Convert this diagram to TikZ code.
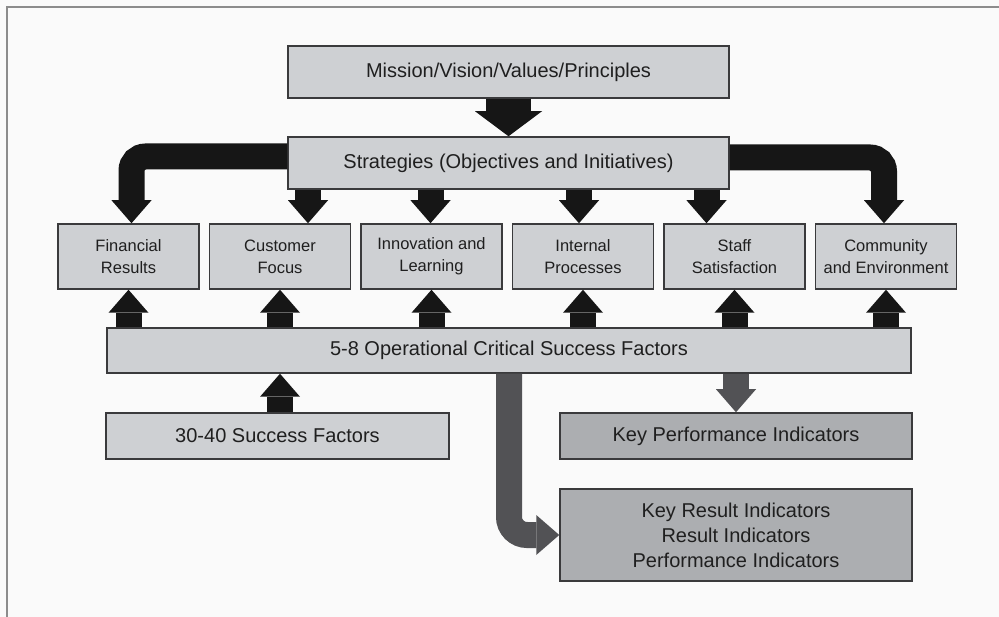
\documentclass[tikz,border=0pt]{standalone}
\usepackage{fontspec}
\setmainfont{Liberation Sans}
\usetikzlibrary{positioning,arrows.meta}
\definecolor{paper}{RGB}{250,250,250}
\definecolor{framegray}{RGB}{140,140,140}
\definecolor{boxgray}{RGB}{206,208,211}
\definecolor{indgray}{RGB}{172,174,177}
\definecolor{edgegray}{RGB}{58,58,60}
\definecolor{arrblack}{RGB}{22,22,22}
\definecolor{arrgray}{RGB}{82,82,85}
\newcommand*\bigfont{\fontsize{20}{25}\selectfont}
\newcommand*\smallfont{\fontsize{16.5}{22}\selectfont}
\tikzstyle{box}=[draw=edgegray,fill=boxgray,line width=1.5pt,inner sep=0pt,text=black!88,align=center]
\tikzstyle{wide}=[box,font=\bigfont]
\tikzstyle{area}=[box,font=\smallfont,minimum width=141pt,minimum height=65pt]
\tikzstyle{ind}=[wide,fill=indgray,minimum width=352pt]
\tikzstyle{arr}=[arrblack,line width=26pt,-{Triangle[width=40pt,length=23pt,line width=0pt]}]
\tikzstyle{bigarr}=[arrblack,line width=45pt,-{Triangle[width=67pt,length=25pt,line width=0pt]}]
\tikzstyle{grayarr}=[arr,arrgray]

\begin{document}
\begin{tikzpicture}[x=1pt,y=-1pt]
      \fill[paper] (0,0) rectangle (999,617);
      \useasboundingbox (0,0) rectangle (999,617);
      \draw[framegray,line width=2pt] (7,617) -- (7,7) -- (999,7);

      \node (mission) [wide,minimum width=441pt,minimum height=52pt] at (508.5,72) {Mission/Vision/Values/Principles};
      \node (strat) [wide,minimum width=441pt,minimum height=52pt] at (508.5,163) {Strategies (Objectives and Initiatives)};

      \node (fin) [area] at (128.5,256.5) {Financial\\Results};
      \node (cus) [area,right=9pt of fin] {Customer\\Focus};
      \node (inn) [area,right=9pt of cus] {Innovation and\\Learning};
      \node (int) [area,right=9pt of inn] {Internal\\Processes};
      \node (sta) [area,right=9pt of int] {Staff\\Satisfaction};
      \node (com) [area,right=9pt of sta] {Community\\and Environment};

      \node (csf) [wide,minimum width=804pt,minimum height=45pt] at (509,350.5) {5-8 Operational Critical Success Factors};
      \node (sf) [wide,minimum width=343pt,minimum height=46pt] at (277.5,436) {30-40 Success Factors};
      \node (kpi) [ind,minimum height=46pt] at (736,436) {Key Performance Indicators};
      \node (kri) [ind,minimum height=92pt,below=28.5pt of kpi] {Key Result Indicators\\Result Indicators\\Performance Indicators};

      \draw[bigarr] (mission.south) -- (strat.north);
      \draw[arr,rounded corners=14pt] ([yshift=6.5pt]strat.west) -| ([xshift=3pt]fin.north);
      \draw[arr,rounded corners=14pt] ([yshift=5.5pt]strat.east) -| ([xshift=-2pt]com.north);
      \draw[arr] ([xshift=28pt]cus.north |- strat.south) -- ([xshift=28pt]cus.north);
      \draw[arr] ([xshift=-1pt]inn.north |- strat.south) -- ([xshift=-1pt]inn.north);
      \draw[arr] ([xshift=-4pt]int.north |- strat.south) -- ([xshift=-4pt]int.north);
      \draw[arr] ([xshift=-28pt]sta.north |- strat.south) -- ([xshift=-28pt]sta.north);

      \foreach \b in {fin,cus,inn,int,sta,com}
        \draw[arr] (csf.north -| \b) -- (\b.south);
      \draw[arr] (sf.north -| cus) -- (csf.south -| cus);

      \draw[grayarr] (csf.south -| kpi) -- (kpi.north);
      \draw[grayarr,rounded corners=18pt] (csf.south) |- (kri.west);
\end{tikzpicture}
\end{document}
